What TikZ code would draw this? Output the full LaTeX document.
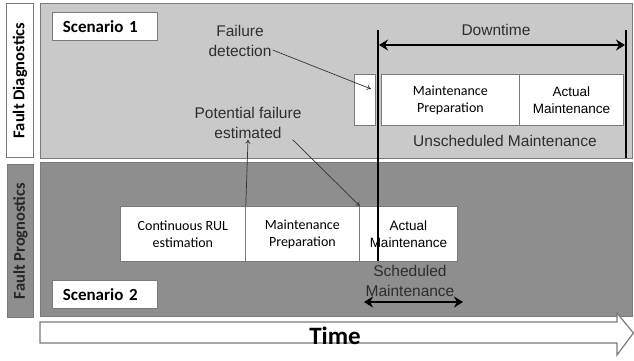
\documentclass[tikz,border=0pt]{standalone}
\usepackage{fontspec}
\setmainfont{Liberation Sans}
\newfontfamily\carl{Carlito}
\newfontfamily\arl{Liberation Sans}
\usetikzlibrary{arrows.meta,calc}
\definecolor{toppanel}{HTML}{C9C9C9}
\definecolor{botpanel}{HTML}{8E8E8E}
\definecolor{edgegray}{HTML}{7A7A7A}
\definecolor{txtgray}{HTML}{2E2E2E}
\begin{document}
\begin{tikzpicture}[x=1pt,y=-1pt,
  panel/.style={draw=edgegray, line width=1pt, inner sep=0pt, anchor=north west},
  wbox/.style={draw=edgegray, fill=white, line width=0.8pt, inner sep=0pt, anchor=north west, align=center, text=black},
  scen/.style={wbox, align=left, font=\carl\bfseries\fontsize{17}{20}\selectfont, text depth=0pt},
  cbtxt/.style={font=\carl\fontsize{14}{17}\selectfont},
  artxt/.style={font=\arl\fontsize{13.5}{17}\selectfont},
  lbl/.style={align=center, inner sep=1pt, text=txtgray, font=\arl\fontsize{15.5}{19.5}\selectfont},
  side/.style={draw=edgegray, line width=1pt, inner sep=0pt, anchor=north west, font=\carl\bfseries\fontsize{16.5}{19}\selectfont},
  thinarrow/.style={draw=black!80, line width=0.7pt, -{To[length=4pt,width=5pt]}},
  bigarrow/.style={draw=black, line width=2pt, {Stealth[length=9pt,width=11pt]}-{Stealth[length=9pt,width=11pt]}},
  vline/.style={draw=black, line width=1.8pt}
]
\useasboundingbox (0,0) rectangle (634,360);

% panels
\node[panel, fill=toppanel, minimum width=592pt, minimum height=155pt] (top) at (40,3) {};
\node[panel, fill=botpanel, minimum width=592pt, minimum height=154pt] (bot) at (40,162) {};

% side labels
\node[side, fill=white, minimum width=27pt, minimum height=154pt] (fdiag) at (6,3) {};
\node[rotate=90, font=\carl\bfseries\fontsize{16.5}{19}\selectfont] (fdiagt) at (fdiag.center) {Fault Diagnostics};
\node[side, fill=botpanel, minimum width=26pt, minimum height=153pt] (fprog) at (7,164) {};
\node[rotate=90, font=\carl\bfseries\fontsize{16.5}{19}\selectfont, text=black!85] (fprogt) at (fprog.center) {Fault Prognostics};

% scenario boxes
\node[scen, minimum width=105pt, minimum height=28pt, text width=98pt, inner xsep=0pt] (s1) at (52,12) {\hspace*{7pt}Scenario 1};
\node[scen, minimum width=105pt, minimum height=28pt, text width=98pt, inner xsep=0pt] (s2) at (52,280) {\hspace*{7pt}Scenario 2};

% top boxes
\node[wbox, minimum width=21pt, minimum height=51pt] (sb) at (354,74) {};
\node[wbox, cbtxt, minimum width=138pt, minimum height=51pt] (mpt) at (381,74) {Maintenance\\Preparation};
\node[wbox, artxt, minimum width=104pt, minimum height=51pt] (amt) at (519,74) {Actual\\Maintenance};

% bottom boxes
\node[wbox, cbtxt, minimum width=125pt, minimum height=55pt] (rul) at (120,206) {Continuous RUL\\estimation};
\node[wbox, cbtxt, minimum width=114pt, minimum height=55pt] (mpb) at (245,206) {Maintenance\\Preparation};
\node[wbox, artxt, minimum width=98pt, minimum height=55pt] (amb) at (359,206) {Actual\\Maintenance};

% labels
\node[lbl] (fd) at (240,41) {Failure\\detection};
\node[lbl] (pf) at (248,123) {Potential failure\\estimated};
\node[lbl] (dt) at (496,30) {Downtime};
\node[lbl] (um) at (505,141) {Unscheduled Maintenance};
\node[lbl] (sm) at (410,281) {Scheduled\\Maintenance};

% vertical lines
\coordinate (v1t) at (378,30);
\coordinate (v1b) at (378,261);
\coordinate (v2t) at (626,30);
\coordinate (v2b) at (626,158);
\draw[vline] (v1t) -- (v1b);
\draw[vline] (v2t) -- (v2b);

% downtime and scheduled arrows
\coordinate (da1) at (379,45);
\coordinate (da2) at (625,45);
\draw[bigarrow] (da1) -- (da2);
\coordinate (sa1) at (364,302);
\coordinate (sa2) at (463,302);
\draw[bigarrow] (sa1) -- (sa2);

% thin connectors
\draw[thinarrow] ($(fd.east)+(0,9)$) -- ($(sb.center)+(6,-11)$);
\draw[thinarrow] (rul.north east) -- (pf.south);
\draw[thinarrow] ($(pf.south east)+(-10,0)$) -- (mpb.north east);

% time arrow
\draw[draw=edgegray, fill=white, line width=1.2pt, line join=miter]
  (40,322) -- (617,322) -- (617,313) -- (633.4,333) -- (617,355) -- (617,343) -- (40,343) -- cycle;
\node[font=\carl\bfseries\fontsize{25}{28}\selectfont, inner sep=0pt] (time) at (335,336) {Time};
\end{tikzpicture}
\end{document}
